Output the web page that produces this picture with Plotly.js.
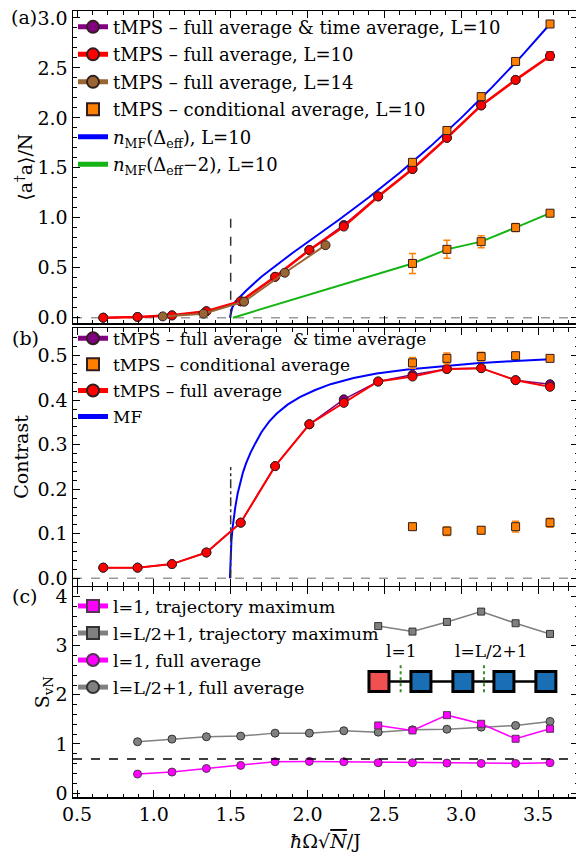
<!DOCTYPE html>
<html>
<head>
<meta charset="utf-8">
<script src="https://cdn.plot.ly/plotly-3.0.1.min.js"></script>
<style>
html, body { margin: 0; padding: 0; overflow: hidden; background: #fff; }
#chart { width: 580px; height: 852px; }
</style>
</head>
<body>
<div id="chart"></div>
<script>
// ---------- data: x grid (ħΩ√N/J) ----------
const xL10 = [0.671, 0.894, 1.118, 1.342, 1.565, 1.789, 2.012, 2.236, 2.460, 2.683, 2.907, 3.130, 3.354, 3.578];
const xL14 = [1.058, 1.323, 1.587, 1.852, 2.117];
const xCond = [2.683, 2.907, 3.130, 3.354, 3.578, 2.683, 2.907, 3.130, 3.354, 3.578];

// ---------- panel (a): <a†a>/N ----------
const purpleA = [0.000, 0.007, 0.023, 0.064, 0.164, 0.409, 0.677, 0.928, 1.214, 1.488, 1.800, 2.125, 2.380, 2.620];
const redA    = [0.000, 0.007, 0.023, 0.064, 0.164, 0.409, 0.677, 0.912, 1.214, 1.488, 1.800, 2.125, 2.380, 2.620];
const redAErr = [0, 0, 0, 0, 0, 0, 0, 0, 0, 0, 0, 0, 0.02, 0.04];
const brownA  = [0.013, 0.040, 0.160, 0.450, 0.726];
const condA    = [1.555, 1.874, 2.213, 2.565, 2.940, 0.543, 0.684, 0.761, 0.902, 1.046];
const condAErr = [0.02, 0.02, 0.02, 0.02, 0.01, 0.10, 0.09, 0.06, 0.04, 0.03];
const xMFa = [1.495, 1.51, 1.53, 1.56, 1.60, 1.70, 1.80, 1.90, 2.00, 2.20, 2.40, 2.60, 2.80, 3.00, 3.20, 3.40, 3.578];
const mfA  = [0.000, 0.100, 0.160, 0.210, 0.270, 0.410, 0.530, 0.645, 0.755, 0.975, 1.205, 1.450, 1.715, 2.000, 2.305, 2.630, 2.940];
const xMF2a = [1.515, 2.683, 2.907, 3.130, 3.354, 3.578];
const mf2A  = [0.000, 0.543, 0.684, 0.761, 0.902, 1.046];

// ---------- panel (b): contrast ----------
const purpleB = [0.024, 0.024, 0.032, 0.058, 0.125, 0.252, 0.346, 0.402, 0.442, 0.457, 0.470, 0.472, 0.445, 0.436];
const redB    = [0.024, 0.024, 0.032, 0.058, 0.125, 0.252, 0.346, 0.394, 0.442, 0.453, 0.470, 0.472, 0.445, 0.430];
const condB    = [0.484, 0.494, 0.498, 0.500, 0.494, 0.116, 0.106, 0.108, 0.116, 0.125];
const condBErr = [0.012, 0.012, 0.010, 0.005, 0.006, 0.008, 0.010, 0.008, 0.012, 0.010];
const xMFb = [1.495, 1.497, 1.500, 1.505, 1.512, 1.520, 1.530, 1.545, 1.560, 1.580, 1.600, 1.630, 1.660, 1.700, 1.750, 1.800, 1.870, 1.950, 2.050, 2.150, 2.300, 2.450, 2.650, 2.900, 3.100, 3.350, 3.578];
const mfB  = [0.000, 0.030, 0.055, 0.085, 0.112, 0.137, 0.160, 0.190, 0.212, 0.238, 0.258, 0.283, 0.303, 0.328, 0.352, 0.370, 0.390, 0.407, 0.423, 0.436, 0.450, 0.460, 0.469, 0.477, 0.483, 0.488, 0.492];

// ---------- panel (c): entanglement entropy ----------
const xFull = [0.894, 1.118, 1.342, 1.565, 1.789, 2.012, 2.236, 2.460, 2.683, 2.907, 3.130, 3.354, 3.578];
const magFull  = [0.386, 0.427, 0.500, 0.563, 0.637, 0.644, 0.637, 0.617, 0.617, 0.610, 0.603, 0.603, 0.617];
const grayFull = [1.044, 1.098, 1.146, 1.159, 1.220, 1.220, 1.268, 1.240, 1.288, 1.300, 1.342, 1.376, 1.458];
const xMax = [2.460, 2.683, 2.907, 3.130, 3.354, 3.578];
const magMax  = [1.376, 1.275, 1.586, 1.410, 1.105, 1.308];
const grayMax = [3.400, 3.288, 3.485, 3.695, 3.458, 3.240];
const ln2Level = 0.693;
const criticalX = 1.5;

// ---------- styles ----------
const FONT = 'DejaVu Serif, Liberation Serif, serif';
const RED = 'rgb(255,0,0)', PURPLE = 'rgb(128,0,128)', BROWN = 'rgb(153,102,51)',
      ORANGE = 'rgb(255,128,0)', BLUE = 'rgb(0,0,255)', GREEN = 'rgb(20,180,20)',
      MAG = 'rgb(255,0,255)', GRAY = 'rgb(128,128,128)';
const EDGE = {color: 'rgb(50,30,30)', width: 1};

function pts(x, y, color, opts) {
  return Object.assign({type: 'scatter', x: x, y: y, mode: 'lines+markers',
    line: {color: color, width: 2.2}, marker: {color: color, size: 9, symbol: 'circle', line: EDGE}}, opts);
}
function cond(x, y, err, ax, ay, lg, name, rank) {
  return {type: 'scatter', x: x, y: y, mode: 'markers', name: name, xaxis: ax, yaxis: ay, legend: lg, legendrank: rank,
    legendgroup: lg + rank,
    marker: {color: ORANGE, size: 8, symbol: 'square', line: EDGE},
    error_y: {type: 'data', array: err, visible: true, color: ORANGE, thickness: 1.5, width: 3.5}};
}

const traces = [
  // (a)
  {type: 'scatter', x: xMFa, y: mfA, mode: 'lines', line: {color: BLUE, width: 2},
   name: '<i>n</i><sub>MF</sub>(Δ<sub>eff</sub>), L=10', xaxis: 'x', yaxis: 'y', legend: 'legend', legendrank: 5, legendgroup: 'a5'},
  {type: 'scatter', x: xMF2a, y: mf2A, mode: 'lines', line: {color: GREEN, width: 2},
   name: '<i>n</i><sub>MF</sub>(Δ<sub>eff</sub>−2), L=10', xaxis: 'x', yaxis: 'y', legend: 'legend', legendrank: 6, legendgroup: 'a6'},
  pts(xL10, purpleA, PURPLE, {name: 'tMPS – full average &amp; time average, L=10', xaxis: 'x', yaxis: 'y', legend: 'legend', legendrank: 1, legendgroup: 'a1', line: {color: PURPLE, width: 1.5}}),
  pts(xL10, redA, RED, {name: 'tMPS – full average, L=10', xaxis: 'x', yaxis: 'y', legend: 'legend', legendrank: 2, legendgroup: 'a2', line: {color: RED, width: 2.6},
     error_y: {type: 'data', array: redAErr, visible: true, color: RED, thickness: 1.5, width: 4}}),
  pts(xL14, brownA, BROWN, {name: 'tMPS – full average, L=14', xaxis: 'x', yaxis: 'y', legend: 'legend', legendrank: 3, legendgroup: 'a3', line: {color: BROWN, width: 2}}),
  cond(xCond, condA, condAErr, 'x', 'y', 'legend', 'tMPS – conditional average, L=10', 4),
  // (b)
  {type: 'scatter', x: xMFb, y: mfB, mode: 'lines', line: {color: BLUE, width: 2},
   name: 'MF', xaxis: 'x2', yaxis: 'y2', legend: 'legend2', legendrank: 4, legendgroup: 'b4'},
  pts(xL10, purpleB, PURPLE, {name: 'tMPS – full average  &amp; time average', xaxis: 'x2', yaxis: 'y2', legend: 'legend2', legendrank: 1, legendgroup: 'b1', line: {color: PURPLE, width: 1.5}}),
  pts(xL10, redB, RED, {name: 'tMPS – full average', xaxis: 'x2', yaxis: 'y2', legend: 'legend2', legendrank: 3, legendgroup: 'b3', line: {color: RED, width: 2}}),
  cond(xCond, condB, condBErr, 'x2', 'y2', 'legend2', 'tMPS – conditional average', 2),
  // (c)
  pts(xFull, grayFull, GRAY, {name: 'l=L/2+1, full average', xaxis: 'x3', yaxis: 'y3', legend: 'legend3', legendrank: 4, legendgroup: 'c4',
     line: {color: GRAY, width: 1.5}, marker: {color: GRAY, size: 8, line: {color: '#333', width: 1}}}),
  pts(xFull, magFull, MAG, {name: 'l=1, full average', xaxis: 'x3', yaxis: 'y3', legend: 'legend3', legendrank: 3, legendgroup: 'c3',
     line: {color: MAG, width: 1.5}, marker: {color: MAG, size: 8, line: {color: '#553355', width: 1}}}),
  pts(xMax, grayMax, GRAY, {name: 'l=L/2+1, trajectory maximum', xaxis: 'x3', yaxis: 'y3', legend: 'legend3', legendrank: 2, legendgroup: 'c2',
     line: {color: GRAY, width: 1.5}, marker: {color: GRAY, size: 7, symbol: 'square', line: {color: '#333', width: 1}}}),
  pts(xMax, magMax, MAG, {name: 'l=1, trajectory maximum', xaxis: 'x3', yaxis: 'y3', legend: 'legend3', legendrank: 1, legendgroup: 'c1',
     line: {color: MAG, width: 1.5}, marker: {color: MAG, size: 7, symbol: 'square', line: {color: '#553355', width: 1}}})
];

const XR = [0.474, 3.76];
function xax(anchor, labels) {
  return {range: XR, anchor: anchor, showgrid: false, zeroline: false, showline: true, linecolor: 'black', linewidth: 1.5,
    mirror: 'ticks', ticks: 'inside', ticklen: 7, tickwidth: 1, tickcolor: 'black', tick0: 0.5, dtick: 0.5,
    tickformat: '.1f', showticklabels: labels, tickfont: {size: 19},
    minor: {ticks: 'inside', ticklen: 3.5, tickwidth: 1, tickcolor: 'black', dtick: 0.1}};
}
function yax(anchor, domain, range, dtick, minor, fmt, title, standoff) {
  return {domain: domain, range: range, anchor: anchor, showgrid: false, zeroline: false, showline: true, linecolor: 'black', linewidth: 1.5,
    mirror: 'ticks', ticks: 'inside', ticklen: 7, tickwidth: 1, tickcolor: 'black', tick0: 0, dtick: dtick, tickformat: fmt,
    tickfont: {size: 19}, minor: {ticks: 'inside', ticklen: 3.5, tickwidth: 1, tickcolor: 'black', dtick: minor},
    title: {text: title, font: {size: 19}, standoff: standoff}};
}

const xa3 = xax('y3', true);
xa3.title = {text: '<i>ħ</i>Ω√<span style="text-decoration:overline"><i>N</i></span>/J', font: {size: 19}, standoff: 14};

// inset chain diagram (panel c)
const siteX = [2.465, 2.738, 3.011, 3.278, 3.551];
const siteY = 2.27;
const shapes = [
  {type: 'line', xref: 'x domain', x0: 0, x1: 1, yref: 'y', y0: 0, y1: 0, layer: 'below', line: {color: '#9a9a9a', width: 1.5, dash: 'dash'}},
  {type: 'line', xref: 'x', x0: criticalX, x1: criticalX, yref: 'y', y0: 0, y1: 1.0, line: {color: '#333', width: 1.5, dash: 'dash'}},
  {type: 'line', xref: 'x2 domain', x0: 0, x1: 1, yref: 'y2', y0: 0, y1: 0, layer: 'below', line: {color: '#9a9a9a', width: 1.5, dash: 'dash'}},
  {type: 'line', xref: 'x2', x0: criticalX, x1: criticalX, yref: 'y2', y0: 0, y1: 0.25, line: {color: '#333', width: 1.5, dash: 'dashdot'}},
  {type: 'line', xref: 'x3 domain', x0: 0, x1: 1, yref: 'y3', y0: ln2Level, y1: ln2Level, line: {color: 'black', width: 1.5, dash: 'dash'}},
  {type: 'line', xref: 'x3', x0: siteX[0], x1: siteX[4], yref: 'y3', y0: siteY, y1: siteY, line: {color: 'black', width: 2.5}}
];
siteX.forEach(function (sx, i) {
  shapes.push({type: 'rect', xref: 'x3', yref: 'y3', xsizemode: 'pixel', ysizemode: 'pixel', xanchor: sx, yanchor: siteY,
    x0: -10, x1: 10, y0: -10, y1: 10, fillcolor: i === 0 ? 'rgb(240,80,80)' : 'rgb(25,110,180)', line: {color: 'black', width: 3}});
});
[2.606, 3.148].forEach(function (cx) {
  shapes.push({type: 'line', xref: 'x3', yref: 'y3', x0: cx, x1: cx, y0: 2.05, y1: 2.66, line: {color: 'rgb(60,140,40)', width: 2, dash: 'dot'}});
});

const annotations = [
  {text: '(a)', xref: 'paper', yref: 'paper', x: -0.097, y: 0.993, xanchor: 'center', yanchor: 'middle', showarrow: false, font: {size: 19}},
  {text: '(b)', xref: 'paper', yref: 'paper', x: -0.095, y: 0.584, xanchor: 'center', yanchor: 'middle', showarrow: false, font: {size: 19}},
  {text: '(c)', xref: 'paper', yref: 'paper', x: -0.097, y: 0.256, xanchor: 'center', yanchor: 'middle', showarrow: false, font: {size: 19}},
  {text: 'l=1', xref: 'x3', yref: 'y3', x: 2.612, y: 2.9, xanchor: 'center', yanchor: 'middle', showarrow: false, font: {size: 17}},
  {text: 'l=L/2+1', xref: 'x3', yref: 'y3', x: 3.198, y: 2.9, xanchor: 'center', yanchor: 'middle', showarrow: false, font: {size: 17}}
];

const legBase = {xanchor: 'left', yanchor: 'top', x: 0, bgcolor: 'rgba(0,0,0,0)', borderwidth: 0, itemsizing: 'constant',
  traceorder: 'grouped', itemwidth: 30};

const layout = {
  width: 580, height: 852,
  margin: {l: 73, r: 2, t: 11, b: 55, pad: 0},
  paper_bgcolor: 'white', plot_bgcolor: 'white',
  font: {family: FONT, size: 19, color: 'black'},
  showlegend: true,
  xaxis: xax('y', false),
  xaxis2: xax('y2', false),
  xaxis3: xa3,
  yaxis: yax('x', [0.6027, 1], [-0.056, 3.07], 0.5, 0.1, '.1f', '⟨a<sup>†</sup>a⟩/N', 0),
  yaxis2: yax('x2', [0.2688, 0.5963], [-0.0166, 0.5615], 0.1, 0.02, '.1f', 'Contrast', 4),
  yaxis3: yax('x3', [0, 0.2668], [-0.081, 4.19], 1, 0.2, 'd', 'S<sub>vN</sub>', 0),
  legend: Object.assign({}, legBase, {y: 1.003, font: {size: 18}, tracegroupgap: 1.1}),
  legend2: Object.assign({}, legBase, {y: 0.606, font: {size: 17}, tracegroupgap: 1}),
  legend3: Object.assign({}, legBase, {y: 0.2658, font: {size: 17.5}, tracegroupgap: 1.3}),
  shapes: shapes,
  annotations: annotations
};

Plotly.newPlot('chart', traces, layout, {displayModeBar: false, staticPlot: true});
</script>
</body>
</html>
